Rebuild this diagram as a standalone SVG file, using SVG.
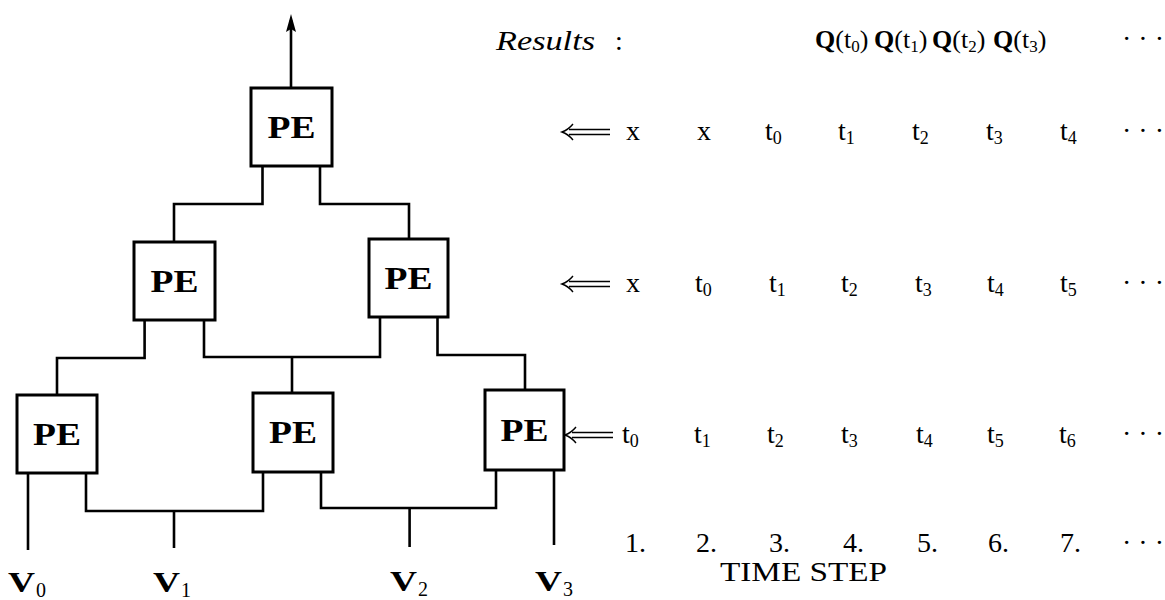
<svg xmlns="http://www.w3.org/2000/svg" width="1165" height="600" viewBox="0 0 1165 600">
<style>
.box{fill:#fff;stroke:#000;stroke-width:3}
.pe{font-family:"Liberation Serif",serif;font-weight:bold;font-size:31px}
.w{fill:none;stroke:#000;stroke-width:2.6}
.t{font-family:"Liberation Serif",serif;font-size:28px}
.q{font-family:"Liberation Serif",serif;font-size:26px}
.b{font-family:"Liberation Serif",serif;font-size:30px;font-weight:bold}
.s{font-family:"Liberation Serif",serif;font-size:20px}
.dbl{fill:none;stroke:#000;stroke-width:1.4}
</style>
<defs>
<marker id="ah" markerWidth="18" markerHeight="10" refX="12" refY="5" orient="auto" markerUnits="userSpaceOnUse" viewBox="0 0 18 10"><path d="M18,5 L0,0 L3,5 L0,10 Z" fill="#000"/></marker>
<g id="dla"><path class="dbl" d="M7,-2.5 H48 M7,2.5 H48 M11,-8 Q6,-2 0,0 Q6,2 11,8"/></g>
</defs>
<rect width="1165" height="600" fill="#fff"/>
<g id="connectors">
<path class="w" d="M291,88 V20" marker-end="url(#ah)"/>
<path class="w" d="M262.5,166 V204 H174 V242"/>
<path class="w" d="M320,166 V204 H409 V239"/>
<path class="w" d="M144.6,320 V358 H57 V395"/>
<path class="w" d="M204,320 V357 H380 V317"/>
<path class="w" d="M292,357 V393"/>
<path class="w" d="M437.5,317 V355 H525 V390"/>
<path class="w" d="M28,473 V550"/>
<path class="w" d="M86,473 V511 H263 V472"/>
<path class="w" d="M174,511 V548"/>
<path class="w" d="M321,472 V508 H496 V470"/>
<path class="w" d="M409.6,508 V547"/>
<path class="w" d="M554,470 V545"/>
</g>
<g id="pe-top"><rect class="box" x="251" y="88" width="81" height="78"/><text class="pe" x="267.5" y="138" textLength="48" lengthAdjust="spacingAndGlyphs">PE</text></g>
<g id="pe-mid-left"><rect class="box" x="134" y="242" width="81" height="78"/><text class="pe" x="150.5" y="292" textLength="48" lengthAdjust="spacingAndGlyphs">PE</text></g>
<g id="pe-mid-right"><rect class="box" x="369" y="239" width="79" height="78"/><text class="pe" x="384.5" y="289" textLength="48" lengthAdjust="spacingAndGlyphs">PE</text></g>
<g id="pe-bot-left"><rect class="box" x="17" y="395" width="80" height="78"/><text class="pe" x="33" y="445" textLength="48" lengthAdjust="spacingAndGlyphs">PE</text></g>
<g id="pe-bot-mid"><rect class="box" x="253" y="393" width="80" height="79"/><text class="pe" x="269" y="443" textLength="48" lengthAdjust="spacingAndGlyphs">PE</text></g>
<g id="pe-bot-right"><rect class="box" x="485" y="390" width="79" height="80"/><text class="pe" x="500.5" y="441" textLength="48" lengthAdjust="spacingAndGlyphs">PE</text></g>
<g id="v0"><text class="b" x="8" y="592" textLength="27" lengthAdjust="spacingAndGlyphs">V</text><text class="s" x="36" y="597">0</text></g>
<g id="v1"><text class="b" x="153" y="592" textLength="27" lengthAdjust="spacingAndGlyphs">V</text><text class="s" x="181" y="597">1</text></g>
<g id="v2"><text class="b" x="390" y="591" textLength="27" lengthAdjust="spacingAndGlyphs">V</text><text class="s" x="418" y="596">2</text></g>
<g id="v3"><text class="b" x="535" y="591" textLength="27" lengthAdjust="spacingAndGlyphs">V</text><text class="s" x="563" y="596">3</text></g>
<g id="results">
<text class="t" x="496" y="50" font-style="italic" font-size="30" textLength="99" lengthAdjust="spacingAndGlyphs">Results</text>
<text class="t" x="615" y="50">:</text>
<text class="q" x="815" y="48"><tspan font-weight="bold">Q</tspan>(t<tspan font-size="17" dy="4">0</tspan><tspan dy="-4">)</tspan></text>
<text class="q" x="874" y="48"><tspan font-weight="bold">Q</tspan>(t<tspan font-size="17" dy="4">1</tspan><tspan dy="-4">)</tspan></text>
<text class="q" x="932" y="48"><tspan font-weight="bold">Q</tspan>(t<tspan font-size="17" dy="4">2</tspan><tspan dy="-4">)</tspan></text>
<text class="q" x="993" y="48"><tspan font-weight="bold">Q</tspan>(t<tspan font-size="17" dy="4">3</tspan><tspan dy="-4">)</tspan></text>
<text class="t" x="1122" y="48">· · ·</text>
</g>
<g id="row1">
<use href="#dla" x="562" y="132"/>
<text class="t" x="626" y="140">x</text>
<text class="t" x="697" y="140">x</text>
<text class="t" x="765" y="140">t<tspan font-size="18" dy="4">0</tspan></text>
<text class="t" x="838" y="140">t<tspan font-size="18" dy="4">1</tspan></text>
<text class="t" x="912" y="140">t<tspan font-size="18" dy="4">2</tspan></text>
<text class="t" x="986" y="140">t<tspan font-size="18" dy="4">3</tspan></text>
<text class="t" x="1060" y="140">t<tspan font-size="18" dy="4">4</tspan></text>
<text class="t" x="1122" y="140">· · ·</text>
</g>
<g id="row2">
<use href="#dla" x="562" y="284"/>
<text class="t" x="626" y="292">x</text>
<text class="t" x="695" y="292">t<tspan font-size="18" dy="4">0</tspan></text>
<text class="t" x="769" y="292">t<tspan font-size="18" dy="4">1</tspan></text>
<text class="t" x="841" y="292">t<tspan font-size="18" dy="4">2</tspan></text>
<text class="t" x="915" y="292">t<tspan font-size="18" dy="4">3</tspan></text>
<text class="t" x="987" y="292">t<tspan font-size="18" dy="4">4</tspan></text>
<text class="t" x="1060" y="292">t<tspan font-size="18" dy="4">5</tspan></text>
<text class="t" x="1122" y="292">· · ·</text>
</g>
<g id="row3">
<use href="#dla" x="565" y="435"/>
<text class="t" x="622" y="443">t<tspan font-size="18" dy="4">0</tspan></text>
<text class="t" x="694" y="443">t<tspan font-size="18" dy="4">1</tspan></text>
<text class="t" x="767" y="443">t<tspan font-size="18" dy="4">2</tspan></text>
<text class="t" x="841" y="443">t<tspan font-size="18" dy="4">3</tspan></text>
<text class="t" x="916" y="443">t<tspan font-size="18" dy="4">4</tspan></text>
<text class="t" x="987" y="443">t<tspan font-size="18" dy="4">5</tspan></text>
<text class="t" x="1059" y="443">t<tspan font-size="18" dy="4">6</tspan></text>
<text class="t" x="1122" y="443">· · ·</text>
</g>
<g id="timesteps">
<text class="t" x="625" y="552">1.</text>
<text class="t" x="696" y="552">2.</text>
<text class="t" x="769" y="552">3.</text>
<text class="t" x="843" y="552">4.</text>
<text class="t" x="917" y="552">5.</text>
<text class="t" x="988" y="552">6.</text>
<text class="t" x="1060" y="552">7.</text>
<text class="t" x="1122" y="552">· · ·</text>
<text class="t" x="720" y="581" font-size="26" textLength="167" lengthAdjust="spacingAndGlyphs">TIME STEP</text>
</g>
</svg>
